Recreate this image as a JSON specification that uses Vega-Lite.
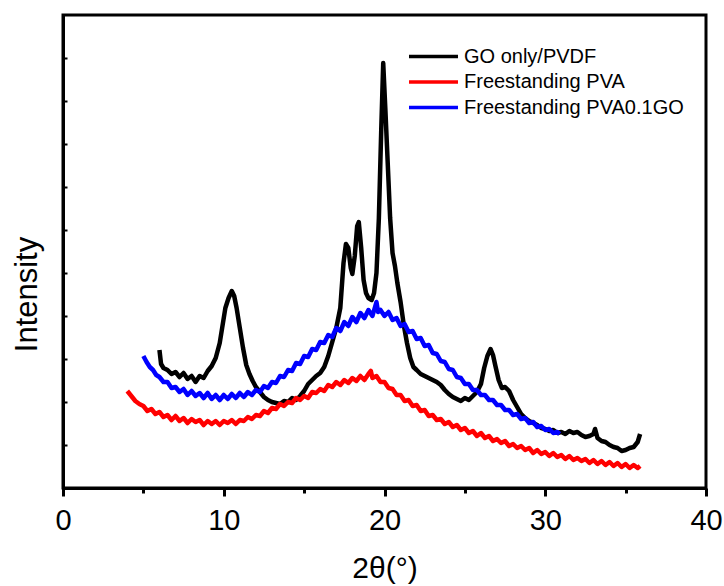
{
  "$schema": "https://vega.github.io/schema/vega-lite/v6.json",
  "autosize": {"type": "none"},
  "width": 643,
  "height": 473,
  "padding": {"left": 63, "top": 15, "right": 18, "bottom": 98},
  "background": "white",
  "config": {
    "font": "Liberation Sans",
    "view": {"stroke": "black", "strokeWidth": 3},
    "axis": {"domainColor": "black", "domainWidth": 3, "tickColor": "black", "grid": false, "labelColor": "black", "titleColor": "black", "titleFontWeight": "normal"}
  },
  "encoding": {
    "x": {"field": "x", "type": "quantitative", "scale": {"domain": [0, 40], "nice": false},
      "axis": {"values": [0, 5, 10, 15, 20, 25, 30, 35, 40], "labelExpr": "datum.value % 10 === 0 ? datum.label : ''",
        "tickSize": {"condition": {"test": "datum.value % 10 === 0", "value": 8}, "value": 5}, "tickWidth": 3,
        "labelFontSize": 29, "labelPadding": 10, "title": "2θ(°)", "titleFontSize": 30, "titlePadding": 18, "labelFlush": false}},
    "y": {"field": "y", "type": "quantitative", "scale": {"domain": [0, 473], "nice": false, "zero": false},
      "axis": {"values": [0, 43, 86, 129, 172, 215, 258, 301, 344, 387, 430], "labels": false, "tickSize": -4, "tickWidth": 2,
        "title": "Intensity", "titleFontSize": 31, "titleX": -27, "titleY": 279, "titleBaseline": "alphabetic"}}
  },
  "layer": [
    {
      "data": {"values": [
        {"x":6.0,"y":138},{"x":6.1,"y":124},{"x":6.25,"y":120},{"x":6.5,"y":118},{"x":6.75,"y":114},{"x":7.0,"y":116},{"x":7.25,"y":111},{"x":7.5,"y":115},{"x":7.75,"y":109},{"x":8.0,"y":112},{"x":8.25,"y":106},{"x":8.5,"y":112},{"x":8.75,"y":110},{"x":9.0,"y":117},{"x":9.25,"y":122},{"x":9.5,"y":130},{"x":9.75,"y":145},{"x":9.9,"y":160},{"x":10.1,"y":180},{"x":10.3,"y":190},{"x":10.5,"y":197},{"x":10.65,"y":192},{"x":10.8,"y":180},{"x":11.0,"y":160},{"x":11.2,"y":140},{"x":11.4,"y":123},{"x":11.6,"y":114},{"x":11.8,"y":107},{"x":12.0,"y":101},{"x":12.25,"y":96},{"x":12.5,"y":91},{"x":12.75,"y":88},{"x":13.0,"y":86},{"x":13.25,"y":85},{"x":13.5,"y":84},{"x":13.75,"y":87},{"x":14.0,"y":86},{"x":14.25,"y":90},{"x":14.5,"y":88},{"x":14.75,"y":92},{"x":15.0,"y":97},{"x":15.25,"y":104},{"x":15.5,"y":108},{"x":15.75,"y":112},{"x":16.0,"y":115},{"x":16.25,"y":121},{"x":16.5,"y":132},{"x":16.75,"y":146},{"x":17.0,"y":160},{"x":17.25,"y":180},{"x":17.45,"y":225},{"x":17.6,"y":244},{"x":17.75,"y":240},{"x":17.9,"y":220},{"x":18.0,"y":214},{"x":18.15,"y":232},{"x":18.3,"y":262},{"x":18.4,"y":266},{"x":18.55,"y":240},{"x":18.7,"y":208},{"x":18.85,"y":195},{"x":19.0,"y":190},{"x":19.2,"y":188},{"x":19.35,"y":195},{"x":19.5,"y":215},{"x":19.65,"y":270},{"x":19.8,"y":360},{"x":19.92,"y":425},{"x":20.05,"y":380},{"x":20.2,"y":325},{"x":20.35,"y":270},{"x":20.5,"y":235},{"x":20.65,"y":222},{"x":20.8,"y":205},{"x":21.0,"y":186},{"x":21.2,"y":163},{"x":21.4,"y":145},{"x":21.6,"y":130},{"x":21.8,"y":121},{"x":22.0,"y":118},{"x":22.25,"y":114},{"x":22.5,"y":112},{"x":22.75,"y":110},{"x":23.0,"y":108},{"x":23.25,"y":106},{"x":23.5,"y":103},{"x":23.75,"y":98},{"x":24.0,"y":94},{"x":24.25,"y":91},{"x":24.5,"y":89},{"x":24.75,"y":87},{"x":25.0,"y":90},{"x":25.25,"y":88},{"x":25.5,"y":92},{"x":25.75,"y":96},{"x":26.0,"y":104},{"x":26.2,"y":120},{"x":26.4,"y":132},{"x":26.6,"y":139},{"x":26.75,"y":133},{"x":26.9,"y":122},{"x":27.1,"y":108},{"x":27.3,"y":100},{"x":27.5,"y":101},{"x":27.75,"y":97},{"x":28.0,"y":88},{"x":28.25,"y":81},{"x":28.5,"y":74},{"x":28.75,"y":70},{"x":29.0,"y":67},{"x":29.25,"y":65},{"x":29.5,"y":63},{"x":29.75,"y":60},{"x":30.0,"y":59},{"x":30.25,"y":57},{"x":30.5,"y":58},{"x":30.75,"y":55},{"x":31.0,"y":56},{"x":31.25,"y":54},{"x":31.5,"y":57},{"x":31.75,"y":55},{"x":32.0,"y":56},{"x":32.25,"y":53},{"x":32.5,"y":51},{"x":32.75,"y":52},{"x":33.0,"y":54},{"x":33.1,"y":59},{"x":33.25,"y":50},{"x":33.5,"y":47},{"x":33.75,"y":46},{"x":34.0,"y":43},{"x":34.25,"y":41},{"x":34.5,"y":40},{"x":34.75,"y":37},{"x":35.0,"y":38},{"x":35.25,"y":40},{"x":35.5,"y":41},{"x":35.75,"y":46},{"x":35.9,"y":54}
      ]},
      "mark": {"type": "line", "strokeWidth": 4.5, "strokeJoin": "round"},
      "encoding": {"color": {"datum": "GO only/PVDF", "type": "nominal",
        "scale": {"domain": ["GO only/PVDF", "Freestanding PVA", "Freestanding PVA0.1GO"], "range": ["#000000", "#ff0000", "#0000ff"]},
        "legend": {"orient": "none", "legendX": 344, "legendY": 29, "title": null, "symbolType": "stroke", "symbolSize": 2400, "symbolStrokeWidth": 3.5, "clipHeight": 25, "rowPadding": 0.5, "labelFontSize": 20, "labelOffset": 4, "labelLimit": 400, "labelColor": "black", "labelFont": "Liberation Sans"}}}
    },
    {
      "data": {"values": [
        {"x":4.0,"y":97},{"x":4.25,"y":92},{"x":4.5,"y":87},{"x":4.75,"y":84},{"x":5.0,"y":82},{"x":5.25,"y":77},{"x":5.5,"y":79},{"x":5.75,"y":74},{"x":6.0,"y":76},{"x":6.25,"y":71},{"x":6.5,"y":73},{"x":6.75,"y":68},{"x":7.0,"y":72},{"x":7.25,"y":67},{"x":7.5,"y":70},{"x":7.75,"y":65},{"x":8.0,"y":69},{"x":8.25,"y":66},{"x":8.5,"y":68},{"x":8.75,"y":63},{"x":9.0,"y":67},{"x":9.25,"y":64},{"x":9.5,"y":67},{"x":9.75,"y":63},{"x":10.0,"y":67},{"x":10.25,"y":65},{"x":10.5,"y":68},{"x":10.75,"y":64},{"x":11.0,"y":68},{"x":11.25,"y":67},{"x":11.5,"y":71},{"x":11.75,"y":69},{"x":12.0,"y":73},{"x":12.25,"y":72},{"x":12.5,"y":77},{"x":12.75,"y":75},{"x":13.0,"y":80},{"x":13.25,"y":79},{"x":13.5,"y":84},{"x":13.75,"y":82},{"x":14.0,"y":86},{"x":14.25,"y":85},{"x":14.5,"y":90},{"x":14.75,"y":88},{"x":15.0,"y":92},{"x":15.25,"y":90},{"x":15.5,"y":96},{"x":15.75,"y":95},{"x":16.0,"y":99},{"x":16.25,"y":97},{"x":16.5,"y":103},{"x":16.75,"y":101},{"x":17.0,"y":106},{"x":17.25,"y":103},{"x":17.5,"y":108},{"x":17.75,"y":105},{"x":18.0,"y":110},{"x":18.25,"y":107},{"x":18.5,"y":112},{"x":18.75,"y":108},{"x":19.0,"y":114},{"x":19.15,"y":117},{"x":19.25,"y":110},{"x":19.5,"y":112},{"x":19.75,"y":106},{"x":20.0,"y":106},{"x":20.25,"y":100},{"x":20.5,"y":99},{"x":20.75,"y":93},{"x":21.0,"y":93},{"x":21.25,"y":87},{"x":21.5,"y":88},{"x":21.75,"y":82},{"x":22.0,"y":83},{"x":22.25,"y":77},{"x":22.5,"y":78},{"x":22.75,"y":72},{"x":23.0,"y":73},{"x":23.25,"y":68},{"x":23.5,"y":69},{"x":23.75,"y":64},{"x":24.0,"y":66},{"x":24.25,"y":61},{"x":24.5,"y":63},{"x":24.75,"y":58},{"x":25.0,"y":60},{"x":25.25,"y":55},{"x":25.5,"y":57},{"x":25.75,"y":52},{"x":26.0,"y":55},{"x":26.25,"y":50},{"x":26.5,"y":52},{"x":26.75,"y":47},{"x":27.0,"y":49},{"x":27.25,"y":45},{"x":27.5,"y":47},{"x":27.75,"y":42},{"x":28.0,"y":44},{"x":28.25,"y":40},{"x":28.5,"y":42},{"x":28.75,"y":38},{"x":29.0,"y":40},{"x":29.25,"y":35},{"x":29.5,"y":38},{"x":29.75,"y":34},{"x":30.0,"y":36},{"x":30.25,"y":32},{"x":30.5,"y":35},{"x":30.75,"y":31},{"x":31.0,"y":33},{"x":31.25,"y":29},{"x":31.5,"y":32},{"x":31.75,"y":28},{"x":32.0,"y":30},{"x":32.25,"y":27},{"x":32.5,"y":29},{"x":32.75,"y":25},{"x":33.0,"y":28},{"x":33.25,"y":24},{"x":33.5,"y":27},{"x":33.75,"y":23},{"x":34.0,"y":26},{"x":34.25,"y":22},{"x":34.5,"y":25},{"x":34.75,"y":21},{"x":35.0,"y":24},{"x":35.25,"y":20},{"x":35.5,"y":23},{"x":35.75,"y":20},{"x":35.9,"y":22}
      ]},
      "mark": {"type": "line", "strokeWidth": 4.5, "strokeJoin": "round"},
      "encoding": {"color": {"datum": "Freestanding PVA", "type": "nominal"}}
    },
    {
      "data": {"values": [
        {"x":5.0,"y":132},{"x":5.2,"y":126},{"x":5.4,"y":121},{"x":5.6,"y":118},{"x":5.8,"y":113},{"x":6.0,"y":111},{"x":6.25,"y":106},{"x":6.5,"y":106},{"x":6.75,"y":100},{"x":7.0,"y":101},{"x":7.25,"y":96},{"x":7.5,"y":99},{"x":7.75,"y":93},{"x":8.0,"y":97},{"x":8.25,"y":92},{"x":8.5,"y":95},{"x":8.75,"y":90},{"x":9.0,"y":95},{"x":9.25,"y":89},{"x":9.5,"y":93},{"x":9.75,"y":88},{"x":10.0,"y":93},{"x":10.25,"y":89},{"x":10.5,"y":94},{"x":10.75,"y":90},{"x":11.0,"y":95},{"x":11.25,"y":91},{"x":11.5,"y":96},{"x":11.75,"y":93},{"x":12.0,"y":98},{"x":12.25,"y":96},{"x":12.5,"y":102},{"x":12.75,"y":100},{"x":13.0,"y":106},{"x":13.25,"y":105},{"x":13.5,"y":112},{"x":13.75,"y":111},{"x":14.0,"y":118},{"x":14.25,"y":117},{"x":14.5,"y":125},{"x":14.75,"y":124},{"x":15.0,"y":132},{"x":15.25,"y":131},{"x":15.5,"y":139},{"x":15.75,"y":138},{"x":16.0,"y":146},{"x":16.25,"y":145},{"x":16.5,"y":153},{"x":16.75,"y":151},{"x":17.0,"y":160},{"x":17.25,"y":157},{"x":17.5,"y":166},{"x":17.75,"y":162},{"x":18.0,"y":171},{"x":18.25,"y":166},{"x":18.5,"y":175},{"x":18.75,"y":170},{"x":19.0,"y":178},{"x":19.25,"y":172},{"x":19.5,"y":186},{"x":19.6,"y":176},{"x":19.75,"y":178},{"x":20.0,"y":172},{"x":20.25,"y":176},{"x":20.5,"y":168},{"x":20.75,"y":170},{"x":21.0,"y":162},{"x":21.25,"y":164},{"x":21.5,"y":156},{"x":21.75,"y":157},{"x":22.0,"y":149},{"x":22.25,"y":150},{"x":22.5,"y":142},{"x":22.75,"y":143},{"x":23.0,"y":135},{"x":23.25,"y":134},{"x":23.5,"y":127},{"x":23.75,"y":126},{"x":24.0,"y":119},{"x":24.25,"y":118},{"x":24.5,"y":111},{"x":24.75,"y":110},{"x":25.0,"y":104},{"x":25.25,"y":104},{"x":25.5,"y":98},{"x":25.75,"y":98},{"x":26.0,"y":93},{"x":26.25,"y":93},{"x":26.5,"y":88},{"x":26.75,"y":88},{"x":27.0,"y":83},{"x":27.25,"y":83},{"x":27.5,"y":78},{"x":27.75,"y":78},{"x":28.0,"y":73},{"x":28.25,"y":74},{"x":28.5,"y":69},{"x":28.75,"y":70},{"x":29.0,"y":65},{"x":29.25,"y":66},{"x":29.5,"y":61},{"x":29.75,"y":62},{"x":30.0,"y":58},{"x":30.25,"y":59},{"x":30.5,"y":55},{"x":30.75,"y":56},{"x":30.9,"y":54}
      ]},
      "mark": {"type": "line", "strokeWidth": 4.5, "strokeJoin": "round"},
      "encoding": {"color": {"datum": "Freestanding PVA0.1GO", "type": "nominal"}}
    }
  ]
}
